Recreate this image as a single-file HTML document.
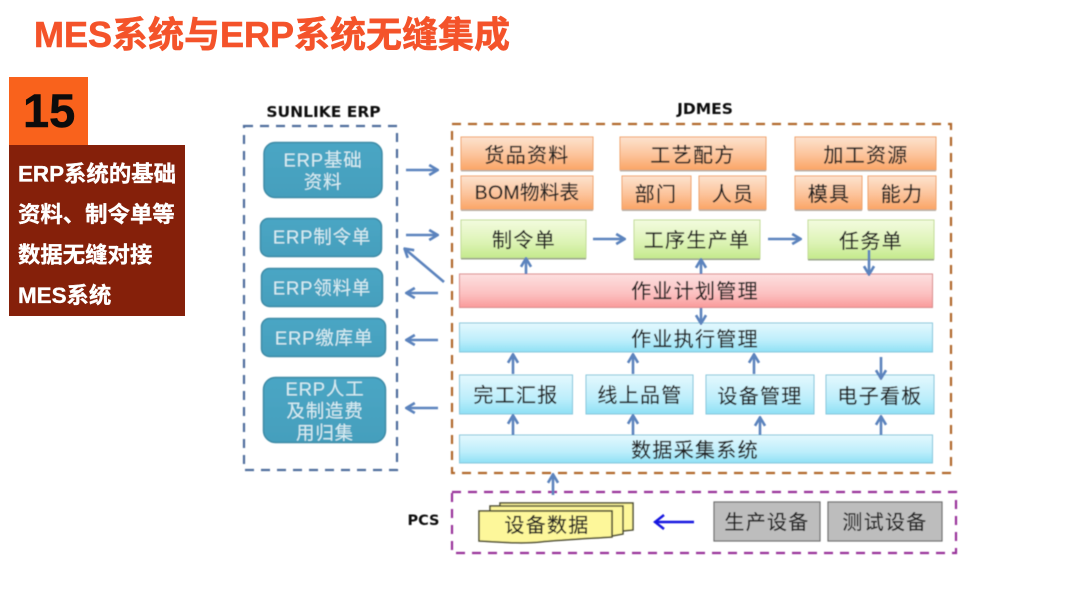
<!DOCTYPE html>
<html lang="zh-CN">
<head>
<meta charset="utf-8">
<title>MES系统与ERP系统无缝集成</title>
<style>
html,body{margin:0;padding:0;background:#fff;width:1080px;height:608px;overflow:hidden}
svg{display:block}
text{font-family:"Liberation Sans","Noto Sans CJK SC",sans-serif}
.t{font-size:20px;fill:#222;stroke:#222;stroke-width:.2;text-anchor:middle;dominant-baseline:central;letter-spacing:1.3px}
.w{font-size:18.5px;fill:#d8edf3;text-anchor:middle;dominant-baseline:central;letter-spacing:.8px}
.l{font-family:"DejaVu Sans","Liberation Sans",sans-serif;font-size:15.500px;font-weight:bold;fill:#111;text-anchor:middle;dominant-baseline:central}
.s{font-size:22.4px;font-weight:bold;fill:#fff;stroke:#fff;stroke-width:.35;dominant-baseline:central}
.ar{stroke:#5b83bd;stroke-width:2.6;fill:none}
</style>
</head>
<body>
<svg width="1080" height="608" viewBox="0 0 1080 608" xmlns="http://www.w3.org/2000/svg">
<defs>
<linearGradient id="o" x1="0" y1="0" x2="0" y2="1"><stop offset="0" stop-color="#fde3cf"/><stop offset=".55" stop-color="#fcc39a"/><stop offset="1" stop-color="#fba566"/></linearGradient>
<linearGradient id="g" x1="0" y1="0" x2="0" y2="1"><stop offset="0" stop-color="#f3fbdf"/><stop offset=".6" stop-color="#dcf3b4"/><stop offset="1" stop-color="#c4e98c"/></linearGradient>
<linearGradient id="r" x1="0" y1="0" x2="0" y2="1"><stop offset="0" stop-color="#fde0e0"/><stop offset=".6" stop-color="#fcc0c0"/><stop offset="1" stop-color="#f99a9a"/></linearGradient>
<linearGradient id="b" x1="0" y1="0" x2="0" y2="1"><stop offset="0" stop-color="#e4f8fe"/><stop offset=".6" stop-color="#bdeefb"/><stop offset="1" stop-color="#8fe0f5"/></linearGradient>
<linearGradient id="e" x1="0" y1="0" x2="0" y2="1"><stop offset="0" stop-color="#4aa6c4"/><stop offset="1" stop-color="#459fbd"/></linearGradient>
<filter id="soft" x="-2%" y="-2%" width="104%" height="104%"><feGaussianBlur stdDeviation=".45"/></filter>
<marker id="ah" viewBox="0 0 10 10" refX="8.500" refY="5" markerWidth="12" markerHeight="12" orient="auto" markerUnits="userSpaceOnUse"><path d="M2 0.800L9 5L2 9.200" fill="none" stroke="#5b83bd" stroke-width="2.200"/></marker>
</defs>

<text x="34" y="47" font-size="36" font-weight="bold" fill="#f4532a" stroke="#f4532a" stroke-width=".6">MES系统与ERP系统无缝集成</text>

<rect x="9" y="77" width="79" height="68" fill="#f9621c"/>
<text x="23" y="127" font-size="47" font-weight="bold" fill="#0c0c0c" stroke="#0c0c0c" stroke-width=".5">15</text>
<rect x="9" y="145" width="176" height="171" fill="#85200a"/>
<text class="s" x="18" y="174">ERP系统的基础</text>
<text class="s" x="18" y="214.500">资料、制令单等</text>
<text class="s" x="18" y="255">数据无缝对接</text>
<text class="s" x="18" y="295.500">MES系统</text>

<g filter="url(#soft)">
<text class="l" x="323.500" y="112">SUNLIKE ERP</text>
<text class="l" x="705" y="109">JDMES</text>
<text class="l" x="423.500" y="521" style="font-size:14.500px">PCS</text>

<rect x="244" y="126" width="153" height="344" fill="none" stroke="#4d6d9c" stroke-width="2.200" stroke-dasharray="9 7"/>
<rect x="452" y="124" width="499" height="349" fill="none" stroke="#b0672a" stroke-width="2.200" stroke-dasharray="9 7"/>
<rect x="452" y="492" width="504" height="61" fill="none" stroke="#98309a" stroke-width="2.200" stroke-dasharray="9 7"/>

<g fill="url(#e)" stroke="#3d8aa6" stroke-width="1.500">
<rect x="264" y="142.500" width="118" height="55" rx="11"/>
<rect x="260.500" y="218.500" width="121" height="38" rx="8"/>
<rect x="261.500" y="268.500" width="121" height="38" rx="8"/>
<rect x="261.500" y="318.500" width="124" height="38" rx="8"/>
<rect x="263.500" y="377.500" width="122" height="65" rx="12"/>
</g>
<text class="w" x="323" y="160">ERP基础</text>
<text class="w" x="323" y="182">资料</text>
<text class="w" x="322" y="237">ERP制令单</text>
<text class="w" x="322" y="288">ERP领料单</text>
<text class="w" x="324" y="338">ERP缴库单</text>
<text class="w" x="325" y="389">ERP人工</text>
<text class="w" x="325" y="411">及制造费</text>
<text class="w" x="325" y="433">用归集</text>

<g fill="url(#o)" stroke="#f0a36a" stroke-width="1">
<rect x="461" y="137" width="132" height="33"/>
<rect x="461" y="176" width="132" height="33.500"/>
<rect x="620" y="137" width="146" height="33"/>
<rect x="622" y="176" width="69" height="33.500"/>
<rect x="699" y="176" width="67" height="33.500"/>
<rect x="795" y="137" width="141" height="33"/>
<rect x="795" y="176" width="67" height="33.500"/>
<rect x="868" y="176" width="68" height="33.500"/>
</g>
<g stroke="#b9b0a6" stroke-width="1.500">
<path d="M461 170.800H593M461 210.300H593M620 170.800H766M622 210.300H691M699 210.300H766M795 170.800H936M795 210.300H862M868 210.300H936"/>
</g>
<text class="t" x="527" y="156">货品资料</text>
<text class="t" x="527" y="193" style="letter-spacing:.3px;font-size:19.500px">BOM物料表</text>
<text class="t" x="693" y="156">工艺配方</text>
<text class="t" x="656" y="195">部门</text>
<text class="t" x="733" y="195">人员</text>
<text class="t" x="866" y="156">加工资源</text>
<text class="t" x="829" y="195">模具</text>
<text class="t" x="902" y="195">能力</text>

<g fill="url(#g)" stroke="#c3dd97" stroke-width="1">
<rect x="461" y="220" width="125" height="38"/>
<rect x="634" y="220" width="126" height="38.500"/>
<rect x="808" y="220" width="126" height="39"/>
</g>
<path d="M461 258.800H586M634 259.300H760M808 259.800H934" stroke="#9aa58c" stroke-width="1.500"/>
<text class="t" x="524" y="241">制令单</text>
<text class="t" x="697" y="241">工序生产单</text>
<text class="t" x="871" y="242">任务单</text>

<rect x="459.500" y="274" width="473" height="33.500" fill="url(#r)" stroke="#d98b8b" stroke-width="1"/>
<text class="t" x="695" y="292">作业计划管理</text>

<g fill="url(#b)" stroke="#86c6dc" stroke-width="1">
<rect x="459.500" y="323" width="473" height="29"/>
<rect x="459.500" y="375" width="113" height="39"/>
<rect x="586" y="375" width="107" height="39"/>
<rect x="706" y="375" width="108" height="39"/>
<rect x="826" y="375" width="108" height="39"/>
<rect x="459.500" y="435" width="473" height="28"/>
</g>
<text class="t" x="695" y="340">作业执行管理</text>
<text class="t" x="516" y="396">完工汇报</text>
<text class="t" x="640" y="396">线上品管</text>
<text class="t" x="760" y="397">设备管理</text>
<text class="t" x="880" y="397">电子看板</text>
<text class="t" x="695" y="451">数据采集系统</text>

<g stroke="#4b4b32" stroke-width="1.500" fill="#fdf79a">
<path d="M500 503H633V530L622 531V508H500Z"/>
<path d="M490 506H623V534L612 536V511H490Z"/>
<path d="M479 511H612V537C580 539 560 540 540 542C520 544 500 542 479 541Z"/>
</g>
<text class="t" x="547" y="526">设备数据</text>

<g fill="#bdbdbd" stroke="#6e6e6e" stroke-width="1.200">
<rect x="714" y="502" width="106" height="39"/>
<rect x="828" y="502" width="114" height="39"/>
</g>
<text class="t" x="767" y="523">生产设备</text>
<text class="t" x="885" y="523">测试设备</text>

<g>
<path class="ar" marker-end="url(#ah)" d="M406 170H437"/>
<path class="ar" marker-end="url(#ah)" d="M406 235H437"/>
<path class="ar" marker-end="url(#ah)" d="M444 282L405 249"/>
<path class="ar" marker-end="url(#ah)" d="M438 293H407"/>
<path class="ar" marker-end="url(#ah)" d="M438 340H407"/>
<path class="ar" marker-end="url(#ah)" d="M438 408H407"/>
<path class="ar" marker-end="url(#ah)" d="M593 239H624"/>
<path class="ar" marker-end="url(#ah)" d="M768 239H800"/>
<path class="ar" marker-end="url(#ah)" d="M526 274V259"/>
<path class="ar" marker-end="url(#ah)" d="M701 274V260"/>
<path class="ar" marker-end="url(#ah)" d="M869 250V274"/>
<path class="ar" marker-end="url(#ah)" d="M701 308V323"/>
<path class="ar" marker-end="url(#ah)" d="M513 374V355"/>
<path class="ar" marker-end="url(#ah)" d="M633 374V355"/>
<path class="ar" marker-end="url(#ah)" d="M754 374V355"/>
<path class="ar" marker-end="url(#ah)" d="M881 357V378"/>
<path class="ar" marker-end="url(#ah)" d="M513 435V416"/>
<path class="ar" marker-end="url(#ah)" d="M633 435V416"/>
<path class="ar" marker-end="url(#ah)" d="M760 435V418"/>
<path class="ar" marker-end="url(#ah)" d="M881 435V417"/>
<path class="ar" marker-end="url(#ah)" d="M553 495V475"/>
</g>
<path d="M694 522H656" stroke="#1414e0" stroke-width="2.400" fill="none"/>
<path d="M664 515L655 522L664 529" stroke="#1414e0" stroke-width="2.400" fill="none"/>
</g>
</svg>
</body>
</html>
